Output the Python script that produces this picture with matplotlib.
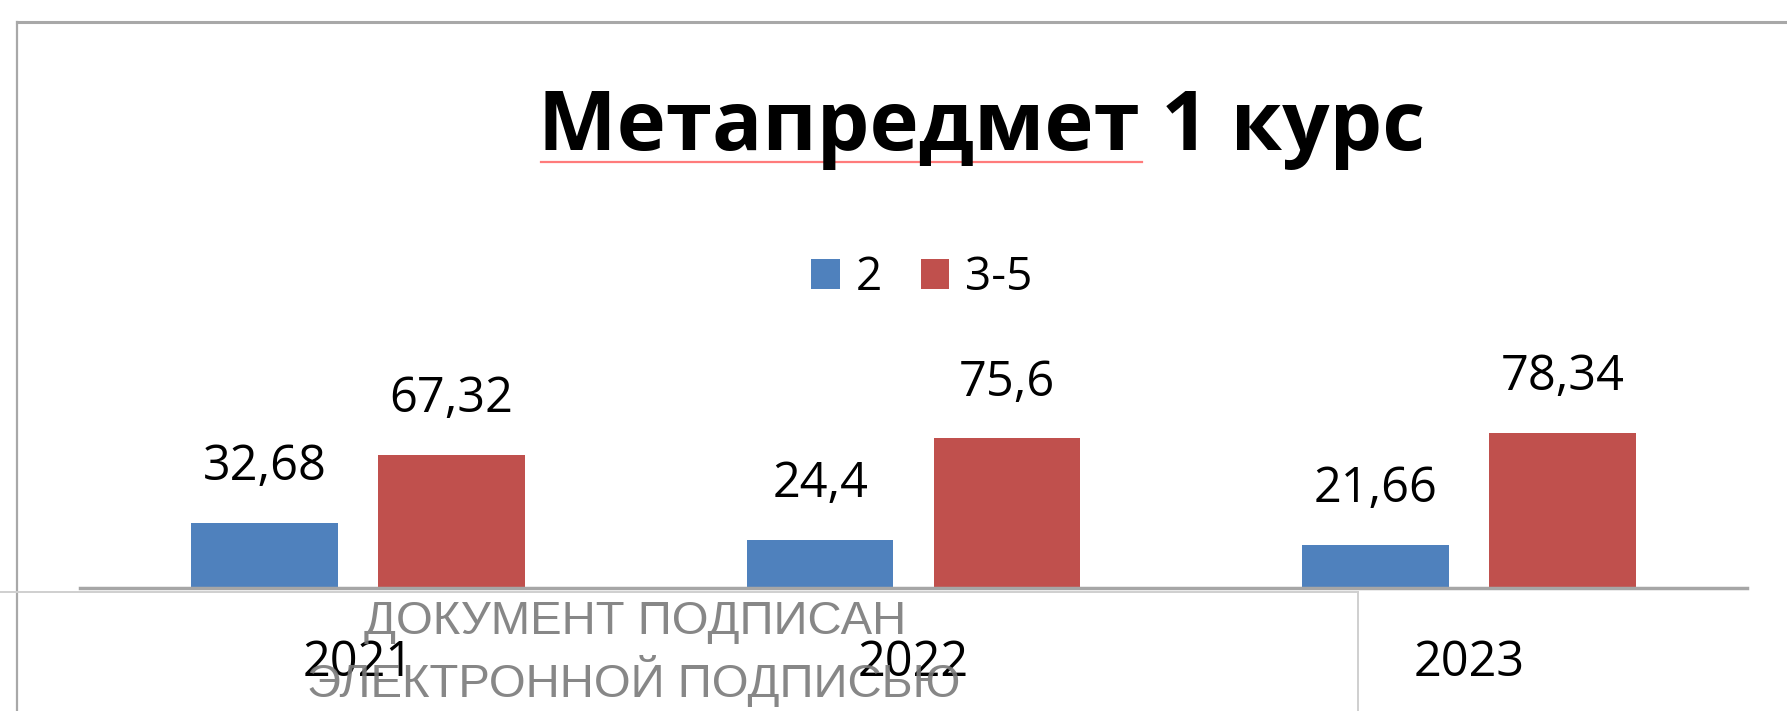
import matplotlib
matplotlib.use("Agg")
import matplotlib.pyplot as plt
from matplotlib.lines import Line2D
import numpy as np

# ---- data ----
years = ["2021", "2022", "2023"]
series_names = ["2", "3-5"]
vals_2 = [32.68, 24.4, 21.66]
vals_35 = [67.32, 75.6, 78.34]
title = "Метапредмет 1 курс"
watermark = ["ДОКУМЕНТ ПОДПИСАН", "ЭЛЕКТРОННОЙ ПОДПИСЬЮ"]

W, H = 1787, 711
DPI = 100
fig = plt.figure(figsize=(W / DPI, H / DPI), dpi=DPI)
fig.patch.set_facecolor("white")

def fx(px):
    return px / W

def fy(py):
    return 1 - py / H

FONT = "Open Sans"
BLUE = "#4F81BD"
RED = "#C0504D"

# axes
ax = fig.add_axes([fx(80), fy(588), fx(1747) - fx(80), fy(390) - fy(588)])
x = np.arange(len(years))
bw = 0.264
off = 0.168
b1 = ax.bar(x - off, vals_2, bw, color=BLUE, label=series_names[0], zorder=2)
b2 = ax.bar(x + off, vals_35, bw, color=RED, label=series_names[1], zorder=2)
ax.set_xlim(-0.5, len(years) - 0.5)
ax.set_ylim(0, 100)
ax.set_yticks([])
for s in ["top", "right", "left"]:
    ax.spines[s].set_visible(False)
ax.spines["bottom"].set_color("#a6a6a6")
ax.spines["bottom"].set_linewidth(2.5)
ax.spines["bottom"].set_zorder(3)
ax.set_xticks(x)
ax.set_xticklabels(years, fontsize=35, family=FONT, color="black")
ax.tick_params(axis="x", length=0, pad=36)
ax.patch.set_alpha(0)

def fmt(v):
    return f"{v:g}".replace(".", ",")

for bars, vals in ((b1, vals_2), (b2, vals_35)):
    for rect, v in zip(bars, vals):
        ax.annotate(fmt(v), (rect.get_x() + rect.get_width() / 2, v),
                    xytext=(0, 40), textcoords="offset points",
                    ha="center", va="center", fontsize=35, family=FONT,
                    color="black", annotation_clip=False)

# title
fig.text(fx(982), fy(128), title, ha="center", va="center",
         fontsize=60, fontweight="bold", family=FONT, color="black")
# spell-check underline
fig.add_artist(Line2D([fx(541), fx(1142)], [fy(162), fy(162)],
                      color="#ff5a5a", lw=1.6, alpha=0.8))

# legend
leg = fig.legend(handles=[b1, b2], labels=series_names, loc="center",
                 bbox_to_anchor=(fx(922), fy(278)), ncol=2, frameon=False,
                 prop={"family": FONT, "size": 33},
                 handlelength=0.62, handleheight=0.62, handletextpad=0.35,
                 columnspacing=0.85)

# chart border lines
fig.add_artist(Line2D([fx(17), 1], [fy(22), fy(22)], color="#a8a8a8", lw=2.2))
fig.add_artist(Line2D([fx(17), fx(17)], [fy(22), 0], color="#a8a8a8", lw=1.6))

# overlay stamp box lines
fig.add_artist(Line2D([0, fx(1358)], [fy(592), fy(592)], color="#cfcfcf", lw=1.4))
fig.add_artist(Line2D([fx(1358), fx(1358)], [fy(592), 0], color="#cfcfcf", lw=1.4))

# watermark text
fig.text(fx(635), fy(622), watermark[0], ha="center", va="center",
         fontsize=34, family="Liberation Sans", color="#7a7a7a", alpha=0.9)
fig.text(fx(634), fy(681), watermark[1], ha="center", va="center",
         fontsize=34, family="Liberation Sans", color="#7a7a7a", alpha=0.9)

fig.savefig("out.png", dpi=DPI)
